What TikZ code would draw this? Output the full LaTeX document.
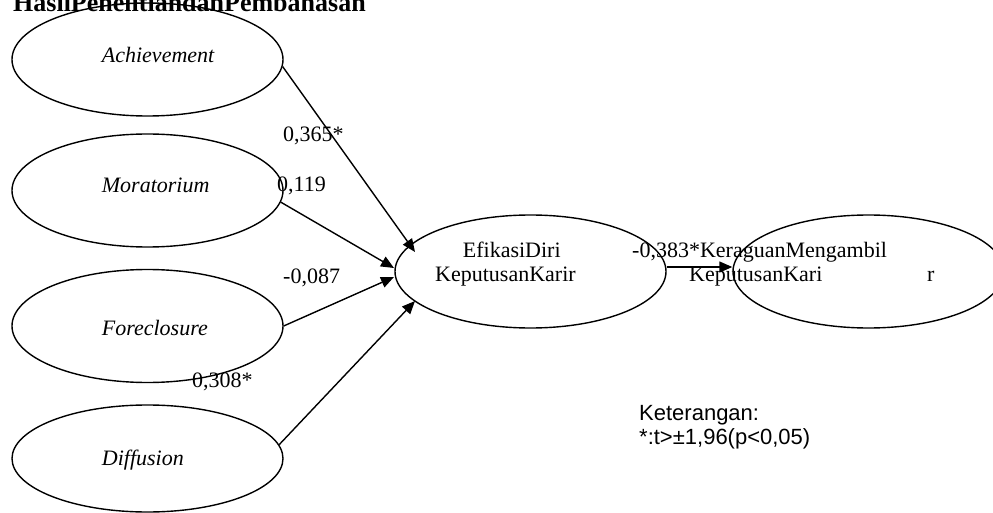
\documentclass[tikz,border=0pt]{standalone}
\usepackage{fontspec}
\setmainfont{Liberation Serif}
\newfontfamily\arialfont{Liberation Sans}
\usetikzlibrary{shapes.geometric,arrows.meta,calc}
\begin{document}
\begin{tikzpicture}[x=1pt,y=-1pt,
  var/.style={draw, ellipse, line width=1.4pt, minimum width=271pt, minimum height=113pt, inner sep=0pt},
  lbl/.style={anchor=base west, inner sep=0pt, font=\fontsize{22}{26}\selectfont},
  ilbl/.style={anchor=base west, inner sep=0pt, font=\fontsize{22}{26}\selectfont\itshape},
  note/.style={anchor=base west, inner sep=0pt, font=\arialfont\fontsize{22}{26}\selectfont},
  arr/.style={line width=1.4pt, -{Triangle[length=13pt,width=11pt]}}]
\useasboundingbox (0,0) rectangle (993,513);
\clip (0,0) rectangle (993,513);
\fill[white] (0,0) rectangle (993,513);

\node[anchor=base west, inner sep=0pt, font=\fontsize{26}{30}\selectfont\bfseries] (title) at (13,12) {HasilPenelitiandanPembahasan};

\node[var] (ach) at (147.5,59.5) {};
\node[var] (mor) at (147.5,190.5) {};
\node[var] (fore) at (147.5,326) {};
\node[var, minimum height=107pt] (dif) at (147.5,458.5) {};
\node[var] (eff) at (530.5,271.5) {};
\node[var] (ker) at (868.5,271.5) {};

\node[ilbl] (tach) at (101.7,63) {Achievement};
\node[ilbl] (tmor) at (101.7,193) {Moratorium};
\node[ilbl] (tfore) at (101.7,335) {Foreclosure};
\node[ilbl] (tdif) at (101.7,465) {Diffusion};

\node[lbl] (teff1) at (462.7,257.3) {EfikasiDiri};
\node[lbl] (teff2) at (435,281.7) {KeputusanKarir};
\node[lbl] (tker1) at (632,257.3) {-0,383*KeraguanMengambil};
\node[lbl] (tker2) at (689,281.7) {KeputusanKari};
\node[lbl] (tker3) at (927,281.7) {r};

\node[lbl] (c1) at (283,142) {0,365*};
\node[lbl] (c2) at (277,192) {0,119};
\node[lbl] (c3) at (283,283) {-0,087};
\node[lbl] (c4) at (192,387) {0,308*};

\node[note] (k1) at (639,420) {Keterangan:};
\node[note] (k2) at (639,444) {*:t>±1,96(p<0,05)};

\draw[arr] (ach.-3) -- ($(eff.center)+(-115.5,-19.5)$);
\draw[arr] (mor.-5) -- ($(eff.center)+(-136.5,-3.5)$);
\draw[arr] (fore.0) -- ($(eff.center)+(-136.5,5.5)$);
\draw[arr] (dif.6) -- ($(eff.center)+(-115.5,29.5)$);
\draw[arr] ($(eff.east)+(0,-4.5)$) -- ($(ker.west)+(0,-4.5)$);
\end{tikzpicture}
\end{document}
